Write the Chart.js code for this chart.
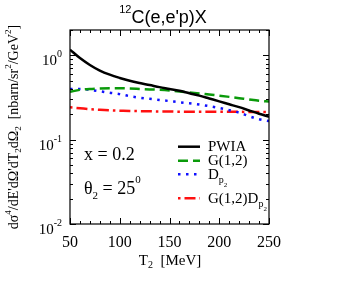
<!DOCTYPE html>
<html><head><meta charset="utf-8">
<script src="https://cdn.jsdelivr.net/npm/chart.js@4/dist/chart.umd.min.js"></script>
<style>html,body{margin:0;padding:0;background:#fff;overflow:hidden}#c{display:block}</style>
</head><body>
<canvas id="c" width="363" height="281"></canvas>
<script>
const T = [50,60,70,80,90,100,110,120,130,140,150,160,170,180,190,200,210,220,230,240,250];
const pwia = [1.17,0.93,0.77,0.66,0.59,0.54,0.50,0.47,0.445,0.42,0.40,0.38,0.355,0.333,0.308,0.285,0.263,0.243,0.222,0.203,0.187];
const g12 = [0.37,0.39,0.40,0.405,0.407,0.407,0.405,0.40,0.395,0.39,0.383,0.374,0.364,0.354,0.343,0.333,0.322,0.311,0.30,0.29,0.283];
const dp2 = [0.40,0.40,0.39,0.375,0.36,0.347,0.328,0.315,0.305,0.296,0.287,0.278,0.27,0.261,0.25,0.238,0.224,0.209,0.19,0.175,0.166];
const g12dp2 = [0.242,0.236,0.23,0.226,0.223,0.221,0.219,0.218,0.217,0.216,0.216,0.215,0.215,0.215,0.215,0.214,0.214,0.214,0.213,0.213,0.212];
const xTicks = [50,100,150,200,250];
const yTicks = [0.01,0.1,1];
const yTickExp = ['-2','-1','0'];

const SERIF = '"Liberation Serif","Times New Roman",serif';
const SANS = '"Liberation Sans",Arial,sans-serif';

function pts(arr){ return T.map((t,i)=>({x:t,y:arr[i]})); }

const series = [
  {label:'PWIA', data:pwia, color:'#000000', dash:[], width:2.5},
  {label:'G(1,2)', data:g12, color:'#0a9a0a', dash:[10,5], width:2.5},
  {label:'Dp2', data:dp2, color:'#1010ff', dash:[2.5,5.5], width:2.5},
  {label:'G(1,2)Dp2', data:g12dp2, color:'#ff1010', dash:[2.5,4,11,4], width:2.5}
];

function rich(ctx, x, y, parts, align, family){
  let w = 0;
  parts.forEach(p=>{ ctx.font = p.size+'px '+family; w += ctx.measureText(p.t).width; });
  if (align==='center') x -= w/2; else if (align==='right') x -= w;
  parts.forEach(p=>{ ctx.font = p.size+'px '+family; ctx.fillText(p.t, x, y+(p.dy||0)); x += ctx.measureText(p.t).width; });
}

const deco = {
  id:'deco',
  afterDraw(chart){
    const ctx = chart.ctx, a = chart.chartArea, xs = chart.scales.x, ys = chart.scales.y;
    ctx.save();
    ctx.strokeStyle = '#000'; ctx.lineWidth = 1.2; ctx.setLineDash([]);
    ctx.strokeRect(a.left, a.top, a.right-a.left, a.bottom-a.top);
    ctx.lineWidth = 1;
    ctx.beginPath();
    for (let v=50; v<=250; v+=10){
      const px = Math.round(xs.getPixelForValue(v))+0.5;
      const L = (v%50===0)?6:3;
      ctx.moveTo(px,a.bottom); ctx.lineTo(px,a.bottom-L);
      ctx.moveTo(px,a.top); ctx.lineTo(px,a.top+L);
    }
    yTicks.forEach(d=>{
      for (let m=1;m<=9;m++){
        const v = m*d; if (v>2.0001) continue;
        const py = Math.round(ys.getPixelForValue(v))+0.5;
        const L = (m===1)?6:3;
        ctx.moveTo(a.left,py); ctx.lineTo(a.left+L,py);
        ctx.moveTo(a.right,py); ctx.lineTo(a.right-L,py);
      }
    });
    ctx.stroke();

    ctx.fillStyle = '#000'; ctx.textBaseline = 'alphabetic';
    // x tick labels
    ctx.textAlign = 'left';
    xTicks.forEach(v=>{ rich(ctx, xs.getPixelForValue(v), 247, [{t:String(v), size:16}], 'center', SERIF); });
    // y tick labels
    yTicks.forEach((v,i)=>{
      const py = ys.getPixelForValue(v);
      rich(ctx, 62, py+10, [{t:'10', size:15},{t:yTickExp[i], size:10, dy:-8}], 'right', SERIF);
    });
    // x title
    rich(ctx, 170, 265, [{t:'T', size:15},{t:'2', size:10, dy:3},{t:'  [MeV]', size:15}], 'center', SERIF);
    // title
    rich(ctx, 163, 23, [{t:'12', size:11, dy:-10},{t:"C(e,e'p)X", size:18}], 'center', SANS);
    // y label rotated
    ctx.save();
    ctx.translate(13, 127); ctx.rotate(-Math.PI/2);
    rich(ctx, 0, 5, [
      {t:'d\u03C3', size:14},{t:'4', size:9, dy:-7},{t:"/dE'd\u03A9'dT", size:14},{t:'2', size:9, dy:3},
      {t:'d\u03A9', size:14},{t:'2', size:9, dy:3},{t:'  [nbarn/sr', size:14},{t:'2', size:9, dy:-7},
      {t:'/GeV', size:14},{t:'2', size:9, dy:-7},{t:']', size:14}
    ], 'center', SERIF);
    ctx.restore();
    // annotations
    rich(ctx, 84, 160, [{t:'x = 0.2', size:18}], 'left', SERIF);
    rich(ctx, 84, 194, [{t:'\u03B8', size:18},{t:'2', size:11, dy:5},{t:' = 25', size:18},{t:'0', size:11, dy:-11}], 'left', SERIF);
    // legend
    const rows = [146.7, 160.7, 174.3, 198.3];
    const labels = [
      [{t:'PWIA', size:15}],
      [{t:'G(1,2)', size:15}],
      [{t:'D', size:15},{t:'p', size:10, dy:4},{t:'2', size:7, dy:8}],
      [{t:'G(1,2)D', size:15},{t:'p', size:10, dy:4},{t:'2', size:7, dy:8}]
    ];
    series.forEach((s,i)=>{
      const y = rows[i];
      ctx.strokeStyle = s.color; ctx.lineWidth = s.width; ctx.setLineDash(s.dash); ctx.lineCap='butt';
      ctx.beginPath(); ctx.moveTo(178,y); ctx.lineTo(200,y); ctx.stroke();
      ctx.setLineDash([]);
      ctx.fillStyle = '#000';
      rich(ctx, 208, y+4.5, labels[i], 'left', SERIF);
    });
    ctx.restore();
  }
};

new Chart(document.getElementById('c'), {
  type:'line',
  data:{ datasets: series.map(s=>({
    label:s.label, data:pts(s.data), borderColor:s.color, borderWidth:s.width,
    borderDash:s.dash, pointRadius:0, fill:false, cubicInterpolationMode:'monotone', borderCapStyle:'butt'
  }))},
  options:{
    responsive:false, animation:false, devicePixelRatio:1,
    layout:{padding:{left:70, right:94, top:30, bottom:57}},
    scales:{
      x:{type:'linear', min:50, max:250, display:false},
      y:{type:'logarithmic', min:0.01, max:2, display:false}
    },
    plugins:{legend:{display:false}, tooltip:{enabled:false}, title:{display:false}}
  },
  plugins:[deco]
});
</script>
</body></html>
